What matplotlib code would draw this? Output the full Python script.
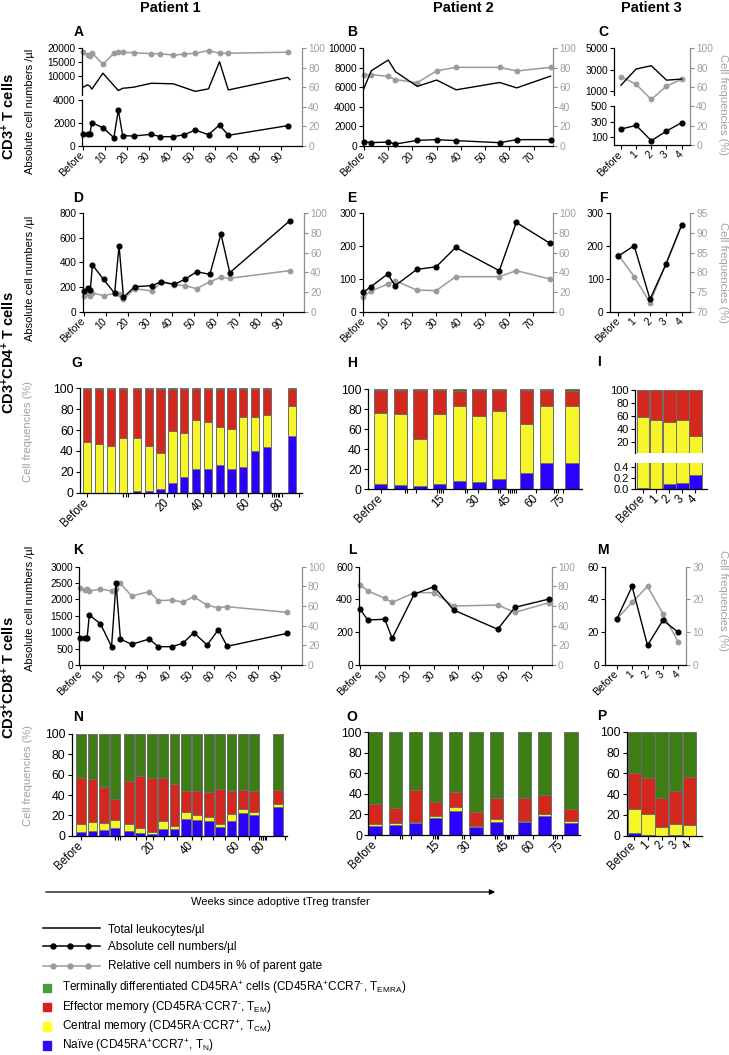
import matplotlib
matplotlib.use('Agg')
import matplotlib.pyplot as plt
from matplotlib.lines import Line2D
from matplotlib.patches import Rectangle
import numpy as np

plt.rcParams['font.family'] = ['Liberation Sans', 'DejaVu Sans']
plt.rcParams['mathtext.fontset'] = 'custom'
plt.rcParams['mathtext.rm'] = 'Liberation Sans'
plt.rcParams['mathtext.it'] = 'Liberation Sans:italic'
plt.rcParams['mathtext.bf'] = 'Liberation Sans:bold'
plt.rcParams['axes.linewidth'] = 0.9

# ---------------- data ----------------
# patient 1 (weeks since transfer, 0 = before)
p1_weeks = [0, 2, 3, 4, 9, 14, 16, 18, 23, 31, 35, 41, 46, 51, 57, 62, 66, 93]
p1_leuk_weeks = [0, 2, 3, 4, 9, 16, 18, 23, 31, 41, 51, 57, 62, 66, 93, 94]
p1_leuk = [6100, 6900, 6500, 5400, 11100, 4900, 5700, 6100, 7500, 7300, 4600, 5500, 15200, 5100, 9600, 8800]
p1_cd3_abs = [1015, 1015, 1015, 2030, 1590, 725, 3130, 900, 870, 1015, 810, 810, 985, 1390, 985, 1830, 930, 1770]
p1_cd3_rel = [96.6, 93, 92, 95.5, 83.6, 95, 96, 96, 95.5, 94.5, 94.5, 93, 94, 95, 97.6, 95, 95, 96]
p1_cd4_abs = [168, 190, 176, 380, 263, 149, 537, 117, 203, 212, 244, 222, 266, 325, 304, 632, 317, 738]
p1_cd4_rel = [16.3, 19.3, 16, 19, 16.3, 18.6, 17.6, 12.5, 23.4, 21, 29.8, 27.5, 26.4, 23.4, 30.5, 35, 34, 41.7]
p1_cd8_abs = [834, 814, 814, 1525, 1261, 559, 2492, 793, 631, 793, 559, 559, 661, 986, 610, 1078, 570, 966]
p1_cd8_rel = [78, 76.3, 77.3, 75.3, 77.3, 75.3, 77, 83, 70.2, 74.6, 65.4, 66.1, 64, 69.5, 60.7, 58.3, 59.3, 53.6]

# patient 2
p2_weeks = [0, 3, 10, 13, 22, 30, 38, 56, 63, 77]
p2_leuk = [5900, 7700, 8800, 7600, 6100, 6750, 5750, 6500, 5950, 7150]
p2_cd3_abs = [440, 340, 410, 200, 580, 650, 550, 340, 650, 650]
p2_cd3_rel = [72.7, 73, 71.3, 68, 64.8, 77, 80.5, 80.5, 76.8, 80.5]
p2_cd4_abs = [59, 76, 115, 79, 129, 137, 196, 125, 272, 208]
p2_cd4_rel = [14.6, 21, 28, 31.5, 22, 21.4, 35.6, 35.6, 41.7, 33.2]
p2_cd8_abs = [340, 275, 279, 163, 433, 478, 336, 218, 352, 403]
p2_cd8_rel = [81.4, 75.6, 67.8, 63.7, 73.6, 73.6, 60, 61, 53.6, 63.4]

# patient 3
p3_labels = ['Before', '1', '2', '3', '4']
p3_leuk = [1530, 3050, 3360, 2000, 2100]
p3_cd3_abs = [206, 253, 57, 181, 287]
p3_cd3_rel = [70.7, 62.8, 47.2, 61, 68]
p3_cd4_abs = [170, 201, 38, 144, 264]
p3_cd4_rel = [84.4, 78.9, 72.3, 82.0, 92.0]
p3_cd8_abs = [27.9, 48, 12, 27.3, 20]
p3_cd8_rel = [14, 19.1, 24, 15.7, 7]

# subsets (% of parent): naive, central memory, effector memory, TEMRA
g_naive = [0, 0, 0, 0, 1.6, 1.6, 3.5, 9.6, 15.3, 22.7, 22.7, 26.5, 23.0, 25.0, 40.3, 43.5, 54.0]
g_cm = [48.2, 46.3, 45.0, 52.0, 50.4, 43.4, 34.2, 49.8, 42.2, 46.6, 44.7, 36.8, 38.0, 47.2, 31.9, 30.9, 29.4]
g_em = [50.8, 53.2, 54.5, 47.0, 47.5, 54.0, 61.8, 40.1, 42.0, 30.2, 31.6, 35.7, 38.5, 27.3, 26.8, 25.1, 16.1]
g_emra = [1.0, 0.5, 0.5, 1.0, 0.5, 1.0, 0.5, 0.5, 0.5, 0.5, 1.0, 1.0, 0.5, 0.5, 1.0, 0.5, 0.5]

h_naive = [5.0, 4.7, 3.3, 5.0, 8.0, 7.6, 10.0, 16.3, 26.0, 26.6]
h_cm = [70.7, 70.3, 47.2, 69.8, 75.4, 65.8, 67.7, 49.1, 56.7, 56.8]
h_em = [23.6, 24.3, 48.8, 24.5, 14.9, 25.9, 21.6, 33.9, 16.6, 14.6]
h_emra = [0.7, 0.7, 0.7, 0.7, 1.7, 0.7, 0.7, 0.7, 0.7, 2.0]

i_naive = [0.018, 0.006, 0.10, 0.106, 0.247]
i_cm = [58.5, 53.8, 50.7, 53.2, 29.0]
i_em = [41.5, 46.2, 49.2, 46.7, 70.8]
i_emra = [0, 0, 0, 0, 0]

n_naive = [3.9, 4.6, 5.6, 7.9, 4.6, 3.0, 1.6, 6.2, 6.2, 16.7, 15.4, 14.4, 8.5, 14.4, 22.0, 20.3, 28.5]
n_cm = [7.2, 8.5, 6.5, 7.5, 6.5, 4.9, 2.0, 8.6, 3.3, 6.3, 4.9, 3.6, 3.3, 6.6, 4.6, 3.0, 3.0]
n_em = [45.3, 42.3, 35.4, 20.3, 43.0, 50.8, 52.8, 41.6, 41.0, 21.3, 24.0, 25.3, 34.4, 22.9, 18.3, 20.3, 13.4]
n_emra = [43.6, 44.6, 52.5, 64.3, 45.9, 41.3, 43.6, 43.6, 49.5, 55.7, 55.7, 56.7, 53.8, 56.1, 55.1, 56.4, 55.1]

o_naive = [8.8, 9.7, 12.0, 16.9, 23.0, 8.1, 13.0, 12.7, 18.5, 12.0]
o_cm = [1.9, 1.7, 0.7, 1.3, 4.6, 1.0, 2.9, 1.3, 2.0, 1.3]
o_em = [19.2, 14.6, 31.1, 14.3, 14.0, 13.0, 19.8, 22.4, 18.1, 12.0]
o_emra = [70.1, 74.0, 56.2, 67.5, 58.4, 77.9, 64.3, 63.6, 61.4, 74.7]

p_naive = [2.9, 1.0, 0, 1.0, 0]
p_cm = [22.7, 19.8, 8.7, 9.9, 10.3]
p_em = [35.0, 35.0, 27.8, 32.4, 46.4]
p_emra = [39.4, 44.2, 63.5, 56.7, 43.3]

p1_ticks = [0, 10, 20, 30, 40, 50, 60, 70, 80, 90]
p2_ticks = [0, 10, 20, 30, 40, 50, 60, 70]
p1_bar_labels = ['Before', '20', '40', '60', '80']
p2_bar_labels = ['Before', '15', '30', '45', '60', '75']

# ---------------- style ----------------
W, H = 729, 1055
GREY = '#9b9b9b'
GREY_AX = '#8f8f8f'
GREY_TXT = '#a0a0a0'
BLUE = '#2a00ff'
YELLOW = '#f5f52a'
RED = '#d2281e'
GREEN = '#3c7d14'
EDGE = '#6e6e6e'

fig = plt.figure(figsize=(W / 100, H / 100), dpi=100)


def rect(l, t, r, b):
    return [l / W, 1 - b / H, (r - l) / W, (b - t) / H]


def wk_labels(ticks):
    return ['Before'] + [str(t) for t in ticks[1:]]


def right_axis(box, xlim, rlim, rticks):
    ax = fig.add_axes(rect(*box))
    ax.patch.set_visible(False)
    for s in ('top', 'left', 'bottom'):
        ax.spines[s].set_visible(False)
    ax.spines['right'].set_color(GREY_AX)
    ax.yaxis.tick_right()
    ax.set_xlim(xlim)
    ax.set_xticks([])
    ax.set_ylim(rlim)
    ax.set_yticks(rticks)
    ax.tick_params(axis='y', direction='out', length=3, width=0.8, color=GREY_AX,
                   labelcolor=GREY_TXT, labelsize=7.3, pad=1.5)
    return ax


def left_axis(box, xlim, ylim, yticks, xticks=None, xlabels=None, fs=7.3, xfs=7.5):
    ax = fig.add_axes(rect(*box))
    ax.patch.set_visible(False)
    for s in ('top', 'right'):
        ax.spines[s].set_visible(False)
    ax.set_xlim(xlim)
    ax.set_ylim(ylim)
    ax.set_yticks(yticks)
    ax.tick_params(direction='out', length=3, width=0.8, labelsize=fs, pad=1.5)
    if xticks is None:
        ax.spines['bottom'].set_visible(False)
        ax.set_xticks([])
    else:
        ax.set_xticks(xticks)
        ax.set_xticklabels(xlabels, rotation=45, ha='right', va='center',
                           rotation_mode='anchor', fontsize=xfs)
        ax.tick_params(axis='x', pad=2.5)
    return ax


def plot_abs(ax, x, y):
    ax.plot(x, y, color='black', lw=1.0, marker='o', ms=3.4, clip_on=False, zorder=4)


def plot_rel(ax, x, y):
    ax.plot(x, y, color=GREY, lw=1.1, marker='o', ms=3.2, mec=GREY, mfc=GREY,
            clip_on=False, zorder=3)


def plot_leuk(ax, x, y):
    ax.plot(x, y, color='black', lw=1.0, clip_on=False)


def line_panel(box, x, absv, rel, ylim, yticks, rlim, rticks, xlim, xticks, xlabels):
    axr = right_axis(box, xlim, rlim, rticks)
    plot_rel(axr, x, rel)
    axl = left_axis(box, xlim, ylim, yticks, xticks, xlabels)
    plot_abs(axl, x, absv)
    return axl


def slots(n, gaps):
    pos, p = [], 0.0
    for i in range(n):
        pos.append(p)
        p += 1 + gaps.get(i, 0)
    return np.array(pos)


def stack(ax, pos, naive, cm, em, emra, width):
    bottom = np.zeros(len(pos))
    for vals, col in zip([naive, cm, em, emra], [BLUE, YELLOW, RED, GREEN]):
        ax.bar(pos, vals, width, bottom=bottom, color=col, edgecolor=EDGE, linewidth=0.7)
        bottom = bottom + np.array(vals)


def bar_panel(box, pos, naive, cm, em, emra, width, xlim, lab_pos, labels, minor, fs=8.8):
    ax = left_axis(box, xlim, (0, 100), [0, 20, 40, 60, 80, 100], lab_pos, labels, fs=fs, xfs=8.3)
    ax.set_xticks(minor, minor=True)
    ax.tick_params(axis='x', which='minor', direction='out', length=3, width=0.8)
    stack(ax, pos, naive, cm, em, emra, width)
    return ax


# ---------------- row 1: CD3 ----------------
xl1 = (-0.5, 99.5)
xl2 = (-0.4, 78)
xl3 = (-0.46, 4.55)

# A (broken axis)
axr = right_axis((82, 48.3, 302, 146), xl1, (0, 100), [0, 20, 40, 60, 80, 100])
plot_rel(axr, p1_weeks, p1_cd3_rel)
ax_up = left_axis((82, 48.3, 302, 95), xl1, (3300, 20000), [10000, 15000, 20000])
plot_leuk(ax_up, p1_leuk_weeks, p1_leuk)
ax_lo = left_axis((82, 100, 302, 146), xl1, (0, 4000), [0, 2000, 4000], p1_ticks, wk_labels(p1_ticks))
plot_abs(ax_lo, p1_weeks, p1_cd3_abs)

# B
axb = line_panel((363, 48.3, 553, 146), p2_weeks, p2_cd3_abs, p2_cd3_rel, (0, 10000),
                 [0, 2000, 4000, 6000, 8000, 10000], (0, 100), [0, 20, 40, 60, 80, 100],
                 xl2, p2_ticks, wk_labels(p2_ticks))
plot_leuk(axb, p2_weeks, p2_leuk)

# C (broken axis)
x3 = np.arange(len(p3_labels))
axr = right_axis((614, 48.3, 690, 145.2), xl3, (0, 100), [0, 20, 40, 60, 80, 100])
plot_rel(axr, x3, p3_cd3_rel)
ax_up = left_axis((614, 48.3, 690, 95), xl3, (600, 5000), [1000, 3000, 5000])
plot_leuk(ax_up, x3, p3_leuk)
ax_lo = left_axis((614, 106, 690, 145.2), xl3, (0, 500), [100, 300, 500], x3, p3_labels)
plot_abs(ax_lo, x3, p3_cd3_abs)

# ---------------- row 2: CD4 lines ----------------
line_panel((82.5, 213.3, 304, 311.7), p1_weeks, p1_cd4_abs, p1_cd4_rel, (0, 800),
           [0, 200, 400, 600, 800], (0, 100), [0, 20, 40, 60, 80, 100],
           xl1, p1_ticks, wk_labels(p1_ticks))
line_panel((362.5, 213.3, 552.7, 311.7), p2_weeks, p2_cd4_abs, p2_cd4_rel, (0, 300),
           [0, 100, 200, 300], (0, 100), [0, 20, 40, 60, 80, 100],
           xl2, p2_ticks, wk_labels(p2_ticks))
line_panel((610, 213.3, 690, 311.7), x3, p3_cd4_abs, p3_cd4_rel, (0, 300),
           [0, 100, 200, 300], (70, 95), [70, 75, 80, 85, 90, 95],
           (-0.53, 4.53), x3, p3_labels)

# ---------------- row 3: CD4 subsets ----------------
g_pos = slots(len(g_naive), {3: 0.2, 15: 1.1})
bar_panel((80, 388.3, 301.7, 492.7), g_pos, g_naive, g_cm, g_em, g_emra, 0.7, (-0.62, 18.14),
          [0, 6.74, 9.8, 13.6, 16.5], p1_bar_labels,
          [3.0, 3.3, 3.42, 4.8, 6.0, 7.3, 8.4, 10.5, 11.6, 12.6, 14.75,
           15.65, 15.8, 15.95, 16.1, 16.25, 17.9])

h_pos = slots(len(h_naive), {6: 0.4, 8: 0.3})
bar_panel((368, 389, 581.7, 489.3), h_pos, h_naive, h_cm, h_em, h_emra, 0.68, (-0.64, 10.2),
          [0, 3.16, 4.95, 6.56, 7.9, 9.27], p2_bar_labels,
          [1.23, 1.33, 1.79, 2.85, 2.95, 3.05, 4.3, 4.4, 5.95, 6.05,
           6.45, 6.55, 6.65, 6.75, 6.85, 8.8, 8.9, 9.0])

# I (broken axis)
i_pos = np.arange(len(i_naive))
ax_up = left_axis((635, 389.7, 707, 452.7), (-0.61, 4.89), (3, 100), [20, 40, 60, 80, 100], fs=8)
stack(ax_up, i_pos, i_naive, i_cm, i_em, i_emra, 0.97)
ax_lo = left_axis((635, 462.7, 707, 489.3), (-0.61, 4.89), (0, 0.47), [0.0, 0.2, 0.4],
                  i_pos, p3_labels, fs=8, xfs=8.3)
ax_lo.set_yticklabels(['0.0', '0.2', '0.4'])
stack(ax_lo, i_pos, i_naive, i_cm, i_em, i_emra, 0.97)

# ---------------- row 4: CD8 lines ----------------
line_panel((79.3, 566.7, 301.7, 665), p1_weeks, p1_cd8_abs, p1_cd8_rel, (0, 3000),
           [0, 500, 1000, 1500, 2000, 2500, 3000], (0, 100), [0, 20, 40, 60, 80, 100],
           xl1, p1_ticks, wk_labels(p1_ticks))
line_panel((359.3, 566.7, 551.7, 665), p2_weeks, p2_cd8_abs, p2_cd8_rel, (0, 600),
           [0, 200, 400, 600], (0, 100), [0, 20, 40, 60, 80, 100],
           xl2, p2_ticks, wk_labels(p2_ticks))
line_panel((605, 566.7, 686, 665), x3, p3_cd8_abs, p3_cd8_rel, (0, 60),
           [0, 20, 40, 60], (0, 30), [0, 10, 20, 30],
           (-0.76, 4.5), x3, p3_labels)

# ---------------- row 5: CD8 subsets ----------------
n_pos = slots(len(n_naive), {3: 0.2, 15: 1.1})
bar_panel((71.7, 734, 287, 835.7), n_pos, n_naive, n_cm, n_em, n_emra, 0.85, (-0.82, 18.07),
          [0, 6.35, 9.7, 13.8, 16.0], p1_bar_labels,
          [3.0, 3.27, 3.4, 4.8, 5.7, 7.3, 8.4, 10.5, 11.6, 12.6, 14.75,
           15.65, 15.8, 15.95, 16.1, 16.25, 17.9])

o_pos = slots(len(o_naive), {6: 0.4, 8: 0.3})
bar_panel((368.3, 732.3, 580, 835), o_pos, o_naive, o_cm, o_em, o_emra, 0.66, (-0.33, 10.15),
          [0, 3.13, 4.7, 6.6, 7.84, 9.24], p2_bar_labels,
          [1.23, 1.33, 1.79, 2.85, 2.95, 3.05, 4.3, 4.4, 5.95, 6.05,
           6.45, 6.55, 6.65, 6.75, 6.85, 8.8, 8.9, 9.0])

p_pos = np.arange(len(p_naive))
ax = left_axis((626.7, 731.7, 702.3, 835.7), (-0.55, 4.95), (0, 100), [0, 20, 40, 60, 80, 100],
               p_pos, p3_labels, fs=8.8, xfs=8.3)
stack(ax, p_pos, p_naive, p_cm, p_em, p_emra, 0.97)

# ---------------- texts ----------------
def ftext(x, y, s, **kw):
    fig.text(x / W, 1 - y / H, s, **kw)


for x, s in [(170, 'Patient 1'), (463, 'Patient 2'), (651, 'Patient 3')]:
    ftext(x, 8, s, ha='center', va='center', fontsize=10.5, fontweight='bold')

letters = [('A', 79, 32), ('B', 352, 32), ('C', 603, 32),
           ('D', 78, 198), ('E', 352, 198), ('F', 603, 198),
           ('G', 77, 363), ('H', 352, 363), ('I', 599, 362),
           ('K', 78, 550), ('L', 352, 550), ('M', 603, 550),
           ('N', 78, 717), ('O', 352, 717), ('P', 602, 716)]
for s, x, y in letters:
    ftext(x, y, s, ha='center', va='center', fontsize=10, fontweight='bold')

for y, s in [(117, r'CD3$^{\mathbf{+}}$ T cells'),
             (353, r'CD3$^{\mathbf{+}}$CD4$^{\mathbf{+}}$ T cells'),
             (678, r'CD3$^{\mathbf{+}}$CD8$^{\mathbf{+}}$ T cells')]:
    ftext(9, y, s, rotation=90, ha='center', va='center', fontsize=10.5, fontweight='bold')

for y in (111, 278, 608):
    ftext(30, y, 'Absolute cell numbers /µl', rotation=90, ha='center', va='center', fontsize=8)
for y in (431, 775):
    ftext(28, y, 'Cell frequencies (%)', rotation=90, ha='center', va='center',
          fontsize=8, color=GREY_TXT)
for y in (105, 272, 600):
    ftext(723, y, 'Cell frequencies (%)', rotation=-90, ha='center', va='center',
          fontsize=8, color=GREY_TXT)

# time arrow
fig.add_artist(matplotlib.patches.FancyArrowPatch(
    (43 / W, 1 - 892 / H), (498 / W, 1 - 892 / H), transform=fig.transFigure,
    arrowstyle='-|>', mutation_scale=8, color='black', lw=0.9))
ftext(280, 902, 'Weeks since adoptive tTreg transfer', ha='center', va='center', fontsize=8)

# legend
def leg_line(y, color, marker):
    xs = np.array([43, 53, 70, 88, 100]) / W
    ln = Line2D(xs, [1 - y / H] * 5, transform=fig.transFigure, color=color, lw=1.1,
                marker=marker, ms=3.6, markevery=[1, 2, 3], mfc=color, mec=color)
    fig.add_artist(ln)


leg_line(928, 'black', None)
ftext(108, 930, 'Total leukocytes/µl', va='center', fontsize=8.5)
leg_line(946, 'black', 'o')
ftext(108, 947, 'Absolute cell numbers/µl', va='center', fontsize=8.5)
leg_line(966, GREY, 'o')
ftext(108, 966, 'Relative cell numbers in % of parent gate', va='center', fontsize=8.5)

subset_labels = [
    r'Terminally differentiated CD45RA$^{+}$ cells (CD45RA$^{+}$CCR7$^{\text{-}}$, T$_{\mathrm{EMRA}}$)',
    r'Effector memory (CD45RA$^{\text{-}}$CCR7$^{\text{-}}$, T$_{\mathrm{EM}}$)',
    r'Central memory (CD45RA$^{\text{-}}$CCR7$^{+}$, T$_{\mathrm{CM}}$)',
    r'Naïve (CD45RA$^{+}$CCR7$^{+}$, T$_{\mathrm{N}}$)',
]
subset_colors = ['#4a9e40', '#d42020', '#ffff2a', '#2a10f0']
for i, (lab, col) in enumerate(zip(subset_labels, subset_colors)):
    yc = 987.7 + i * 19.3
    fig.add_artist(Rectangle((43 / W, 1 - (yc + 4.2) / H), 8.4 / W, 8.4 / H,
                             transform=fig.transFigure, color=col))
    ftext(62, yc, lab, va='center', fontsize=8.5)

fig.savefig('out.png', dpi=100)
